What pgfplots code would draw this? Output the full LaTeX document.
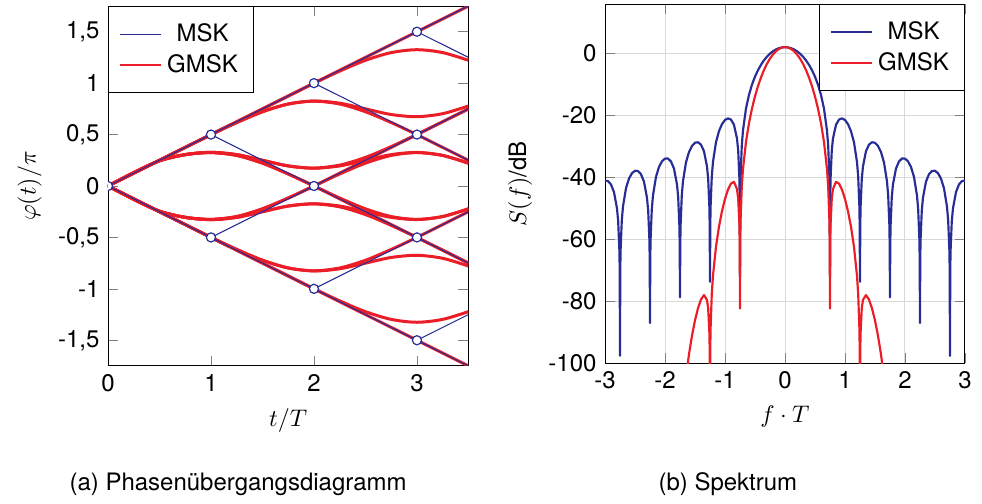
\documentclass[border=0pt]{standalone}
\usepackage{fontspec}
\setmainfont{TeX Gyre Heros}
\usepackage{pgfplots}
\pgfplotsset{compat=1.18}
\definecolor{mskblue}{RGB}{40,45,150}
\definecolor{gmskred}{RGB}{235,30,40}

\pgfplotsset{
  every axis/.append style={
    scale only axis,
    /pgf/number format/assume math mode=true,
    /pgf/number format/use comma,
    tick style={gray},
    legend cell align=center,
    legend style={draw=black, fill=white, inner xsep=4.5pt, inner ysep=5pt},
  },
  gpath/.style={gmskred, line width=1.25pt, smooth, forget plot},
  mpath/.style={mskblue, line width=0.45pt, forget plot},
}

\begin{document}
\begin{tikzpicture}
\path (0,0) rectangle (409.2pt,207.5pt);

% (a) phase trellis
\begin{axis}[
    at={(45pt,55pt)}, anchor=south west,
    width=150.2pt, height=150pt,
    xmin=0, xmax=3.5, ymin=-1.75, ymax=1.75,
    xtick={0,1,2,3},
    ytick={-1.5,-1,-0.5,0,0.5,1,1.5},
    xlabel={$t/T$}, ylabel={$\varphi(t)/\pi$},
    clip marker paths=true,
    legend style={at={(0,1)}, anchor=north west},
]
\addlegendimage{mskblue, line width=0.45pt}
\addlegendentry{MSK}
\addlegendimage{gmskred, line width=0.9pt}
\addlegendentry{GMSK}

% GMSK phase paths (bits a0..a3)
\addplot[gpath] coordinates {(0,0)(0.25,0.125)(0.5,0.25)(0.75,0.375)(1,0.501)(1.25,0.625)(1.5,0.75)(1.75,0.875)(2,1.0)(2.25,1.125)(2.5,1.25)(2.75,1.375)(3,1.5)(3.25,1.625)(3.5,1.75)};
\addplot[gpath] coordinates {(0,0)(0.25,0.125)(0.5,0.25)(0.75,0.375)(1,0.501)(1.25,0.625)(1.5,0.75)(1.75,0.875)(2,0.999)(2.25,1.117)(2.5,1.222)(2.75,1.297)(3,1.325)(3.25,1.297)(3.5,1.222)};
\addplot[gpath] coordinates {(0,0)(0.25,0.125)(0.5,0.25)(0.75,0.375)(1,0.499)(1.25,0.617)(1.5,0.722)(1.75,0.797)(2,0.826)(2.25,0.805)(2.5,0.75)(2.75,0.695)(3,0.674)(3.25,0.703)(3.5,0.778)};
\addplot[gpath] coordinates {(0,0)(0.25,0.125)(0.5,0.25)(0.75,0.375)(1,0.499)(1.25,0.617)(1.5,0.722)(1.75,0.797)(2,0.825)(2.25,0.797)(2.5,0.722)(2.75,0.617)(3,0.499)(3.25,0.375)(3.5,0.25)};
\addplot[gpath] coordinates {(0,0)(0.25,0.13)(0.5,0.245)(0.75,0.305)(1,0.327)(1.25,0.305)(1.5,0.25)(1.75,0.195)(2,0.174)(2.25,0.203)(2.5,0.278)(2.75,0.383)(3,0.501)(3.25,0.625)(3.5,0.75)};
\addplot[gpath] coordinates {(0,0)(0.25,0.13)(0.5,0.245)(0.75,0.305)(1,0.327)(1.25,0.305)(1.5,0.25)(1.75,0.195)(2,0.173)(2.25,0.195)(2.5,0.25)(2.75,0.305)(3,0.326)(3.25,0.297)(3.5,0.222)};
\addplot[gpath] coordinates {(0,0)(0.25,0.13)(0.5,0.245)(0.75,0.305)(1,0.325)(1.25,0.297)(1.5,0.222)(1.75,0.117)(2,0)(2.25,-0.117)(2.5,-0.222)(2.75,-0.297)(3,-0.325)(3.25,-0.297)(3.5,-0.222)};
\addplot[gpath] coordinates {(0,0)(0.25,0.13)(0.5,0.245)(0.75,0.305)(1,0.325)(1.25,0.297)(1.5,0.222)(1.75,0.117)(2,0)(2.25,-0.125)(2.5,-0.25)(2.75,-0.375)(3,-0.5)(3.25,-0.625)(3.5,-0.75)};
\addplot[gpath] coordinates {(0,0)(0.25,-0.125)(0.5,-0.25)(0.75,-0.375)(1,-0.501)(1.25,-0.625)(1.5,-0.75)(1.75,-0.875)(2,-1.0)(2.25,-1.125)(2.5,-1.25)(2.75,-1.375)(3,-1.5)(3.25,-1.625)(3.5,-1.75)};
\addplot[gpath] coordinates {(0,0)(0.25,-0.125)(0.5,-0.25)(0.75,-0.375)(1,-0.501)(1.25,-0.625)(1.5,-0.75)(1.75,-0.875)(2,-0.999)(2.25,-1.117)(2.5,-1.222)(2.75,-1.297)(3,-1.325)(3.25,-1.297)(3.5,-1.222)};
\addplot[gpath] coordinates {(0,0)(0.25,-0.125)(0.5,-0.25)(0.75,-0.375)(1,-0.499)(1.25,-0.617)(1.5,-0.722)(1.75,-0.797)(2,-0.826)(2.25,-0.805)(2.5,-0.75)(2.75,-0.695)(3,-0.674)(3.25,-0.703)(3.5,-0.778)};
\addplot[gpath] coordinates {(0,0)(0.25,-0.125)(0.5,-0.25)(0.75,-0.375)(1,-0.499)(1.25,-0.617)(1.5,-0.722)(1.75,-0.797)(2,-0.825)(2.25,-0.797)(2.5,-0.722)(2.75,-0.617)(3,-0.499)(3.25,-0.375)(3.5,-0.25)};
\addplot[gpath] coordinates {(0,0)(0.25,-0.13)(0.5,-0.245)(0.75,-0.305)(1,-0.327)(1.25,-0.305)(1.5,-0.25)(1.75,-0.195)(2,-0.174)(2.25,-0.203)(2.5,-0.278)(2.75,-0.383)(3,-0.501)(3.25,-0.625)(3.5,-0.75)};
\addplot[gpath] coordinates {(0,0)(0.25,-0.13)(0.5,-0.245)(0.75,-0.305)(1,-0.327)(1.25,-0.305)(1.5,-0.25)(1.75,-0.195)(2,-0.173)(2.25,-0.195)(2.5,-0.25)(2.75,-0.305)(3,-0.326)(3.25,-0.297)(3.5,-0.222)};
\addplot[gpath] coordinates {(0,0)(0.25,-0.13)(0.5,-0.245)(0.75,-0.305)(1,-0.325)(1.25,-0.297)(1.5,-0.222)(1.75,-0.117)(2,0)(2.25,0.117)(2.5,0.222)(2.75,0.297)(3,0.325)(3.25,0.297)(3.5,0.222)};
\addplot[gpath] coordinates {(0,0)(0.25,-0.13)(0.5,-0.245)(0.75,-0.305)(1,-0.325)(1.25,-0.297)(1.5,-0.222)(1.75,-0.117)(2,0)(2.25,0.125)(2.5,0.25)(2.75,0.375)(3,0.5)(3.25,0.625)(3.5,0.75)};

% MSK trellis
\addplot[mpath] coordinates {(0,0)(1,0.5)(2,1)(3,1.5)(3.5,1.75)};
\addplot[mpath] coordinates {(0,0)(1,-0.5)(2,-1)(3,-1.5)(3.5,-1.75)};
\addplot[mpath] coordinates {(1,0.5)(2,0)(3,-0.5)(3.5,-0.75)};
\addplot[mpath] coordinates {(1,-0.5)(2,0)(3,0.5)(3.5,0.75)};
\addplot[mpath] coordinates {(2,1)(3,0.5)(3.5,0.25)};
\addplot[mpath] coordinates {(2,-1)(3,-0.5)(3.5,-0.25)};
\addplot[mpath] coordinates {(3,1.5)(3.5,1.25)};
\addplot[mpath] coordinates {(3,-1.5)(3.5,-1.25)};
\addplot[only marks, mark=*, mark size=1.9pt, mark options={draw=mskblue, fill=white, line width=0.5pt}, forget plot]
  coordinates {(0,0)(1,0.5)(1,-0.5)(2,1)(2,0)(2,-1)(3,1.5)(3,0.5)(3,-0.5)(3,-1.5)};
\end{axis}

% (b) spectrum
\begin{axis}[
    at={(252.1pt,56.1pt)}, anchor=south west,
    width=150pt, height=149.7pt,
    xmin=-3, xmax=3, ymin=-100, ymax=16,
    xtick={-3,-2,-1,0,1,2,3},
    ytick={-100,-80,-60,-40,-20,0},
    grid=major, grid style={gray!30},
    xlabel={$f\cdot T$}, ylabel={$S(f)$/dB},
    legend style={at={(1,1)}, anchor=north east},
]
\addplot[mskblue, line width=0.9pt, line join=round] coordinates {
(-3,-41.01)(-2.95,-41.15)(-2.9,-42.25)(-2.85,-44.73)(-2.8,-50.00)(-2.78,-54.22)(-2.76,-63.59)(-2.755,-69.7)(-2.75,-97.6)(-2.745,-69.5)(-2.74,-63.46)(-2.72,-53.84)(-2.7,-49.36)(-2.65,-43.45)(-2.6,-40.34)(-2.55,-38.60)(-2.5,-37.81)(-2.45,-37.90)(-2.4,-38.94)(-2.35,-41.35)(-2.3,-46.55)(-2.28,-50.74)(-2.26,-60.08)(-2.255,-66.1)(-2.25,-87)(-2.245,-65.9)(-2.24,-59.92)(-2.22,-50.28)(-2.2,-45.77)(-2.15,-39.78)(-2.1,-36.59)(-2.05,-34.76)(-2,-33.89)(-1.95,-33.88)(-1.9,-34.82)(-1.85,-37.13)(-1.8,-42.22)(-1.78,-46.38)(-1.76,-55.67)(-1.755,-61.7)(-1.75,-78.7)(-1.745,-61.5)(-1.74,-55.46)(-1.72,-45.77)(-1.7,-41.21)(-1.65,-35.10)(-1.6,-31.77)(-1.55,-29.81)(-1.5,-28.78)(-1.45,-28.62)(-1.4,-29.39)(-1.35,-31.51)(-1.3,-36.41)(-1.28,-40.48)(-1.26,-49.69)(-1.255,-55.7)(-1.25,-73.7)(-1.245,-55.5)(-1.24,-49.40)(-1.22,-39.61)(-1.2,-34.96)(-1.15,-28.61)(-1.1,-25.02)(-1.05,-22.76)(-1,-21.42)(-0.95,-20.91)(-0.9,-21.30)(-0.85,-22.99)(-0.8,-27.41)(-0.78,-31.27)(-0.76,-40.26)(-0.755,-46.2)(-0.75,-72)(-0.745,-45.9)(-0.74,-39.74)(-0.72,-29.71)(-0.7,-24.80)(-0.65,-17.73)(-0.6,-13.30)(-0.55,-10.02)(-0.5,-7.44)(-0.45,-5.34)(-0.4,-3.61)(-0.35,-2.16)(-0.3,-0.97)(-0.25,0.00)(-0.2,0.77)(-0.15,1.36)(-0.1,1.77)(-0.05,2.02)
(0,2.10)
(0.05,2.02)(0.1,1.77)(0.15,1.36)(0.2,0.77)(0.25,0.00)(0.3,-0.97)(0.35,-2.16)(0.4,-3.61)(0.45,-5.34)(0.5,-7.44)(0.55,-10.02)(0.6,-13.30)(0.65,-17.73)(0.7,-24.80)(0.72,-29.71)(0.74,-39.74)(0.745,-45.9)(0.75,-72)(0.755,-46.2)(0.76,-40.26)(0.78,-31.27)(0.8,-27.41)(0.85,-22.99)(0.9,-21.30)(0.95,-20.91)(1,-21.42)(1.05,-22.76)(1.1,-25.02)(1.15,-28.61)(1.2,-34.96)(1.22,-39.61)(1.24,-49.40)(1.245,-55.5)(1.25,-73.7)(1.255,-55.7)(1.26,-49.69)(1.28,-40.48)(1.3,-36.41)(1.35,-31.51)(1.4,-29.39)(1.45,-28.62)(1.5,-28.78)(1.55,-29.81)(1.6,-31.77)(1.65,-35.10)(1.7,-41.21)(1.72,-45.77)(1.74,-55.46)(1.745,-61.5)(1.75,-78.7)(1.755,-61.7)(1.76,-55.67)(1.78,-46.38)(1.8,-42.22)(1.85,-37.13)(1.9,-34.82)(1.95,-33.88)(2,-33.89)(2.05,-34.76)(2.1,-36.59)(2.15,-39.78)(2.2,-45.77)(2.22,-50.28)(2.24,-59.92)(2.245,-65.9)(2.25,-87)(2.255,-66.1)(2.26,-60.08)(2.28,-50.74)(2.3,-46.55)(2.35,-41.35)(2.4,-38.94)(2.45,-37.90)(2.5,-37.81)(2.55,-38.60)(2.6,-40.34)(2.65,-43.45)(2.7,-49.36)(2.72,-53.84)(2.74,-63.46)(2.745,-69.5)(2.75,-97.6)(2.755,-69.7)(2.76,-63.59)(2.78,-54.22)(2.8,-50.00)(2.85,-44.73)(2.9,-42.25)(2.95,-41.15)(3,-41.01)
};
\addlegendentry{MSK}
\addplot[gmskred, line width=0.9pt, line join=round] coordinates {
(-1.7,-114.9)(-1.65,-104.52)(-1.6,-97.05)(-1.55,-91.07)(-1.5,-86.16)(-1.45,-82.23)(-1.4,-79.37)(-1.35,-77.98)(-1.3,-79.51)(-1.28,-82.26)(-1.26,-90.17)(-1.255,-95.9)(-1.25,-110)(-1.245,-95.0)(-1.24,-88.61)(-1.22,-77.56)(-1.2,-71.68)(-1.15,-62.33)(-1.1,-55.88)(-1.05,-50.87)(-1,-46.92)(-0.95,-43.92)(-0.9,-41.96)(-0.85,-41.41)(-0.8,-43.73)(-0.78,-46.78)(-0.76,-54.99)(-0.755,-60.7)(-0.75,-82.3)(-0.745,-60.05)(-0.74,-53.70)(-0.72,-42.93)(-0.7,-37.30)(-0.65,-28.50)(-0.6,-22.48)(-0.55,-17.73)(-0.5,-13.82)(-0.45,-10.50)(-0.4,-7.69)(-0.35,-5.28)(-0.3,-3.27)(-0.25,-1.59)(-0.2,-0.25)(-0.15,0.79)(-0.1,1.52)(-0.05,1.96)
(0,2.10)
(0.05,1.96)(0.1,1.52)(0.15,0.79)(0.2,-0.25)(0.25,-1.59)(0.3,-3.27)(0.35,-5.28)(0.4,-7.69)(0.45,-10.50)(0.5,-13.82)(0.55,-17.73)(0.6,-22.48)(0.65,-28.50)(0.7,-37.30)(0.72,-42.93)(0.74,-53.70)(0.745,-60.05)(0.75,-82.3)(0.755,-60.7)(0.76,-54.99)(0.78,-46.78)(0.8,-43.73)(0.85,-41.41)(0.9,-41.96)(0.95,-43.92)(1,-46.92)(1.05,-50.87)(1.1,-55.88)(1.15,-62.33)(1.2,-71.68)(1.22,-77.56)(1.24,-88.61)(1.245,-95.0)(1.25,-110)(1.255,-95.9)(1.26,-90.17)(1.28,-82.26)(1.3,-79.51)(1.35,-77.98)(1.4,-79.37)(1.45,-82.23)(1.5,-86.16)(1.55,-91.07)(1.6,-97.05)(1.65,-104.52)(1.7,-114.9)
};
\addlegendentry{GMSK}
\end{axis}

\node[anchor=base] at (99.2pt,3.3pt) {(a) Phasenübergangsdiagramm};
\node[anchor=base] at (303.3pt,3.3pt) {(b) Spektrum};
\end{tikzpicture}
\end{document}
